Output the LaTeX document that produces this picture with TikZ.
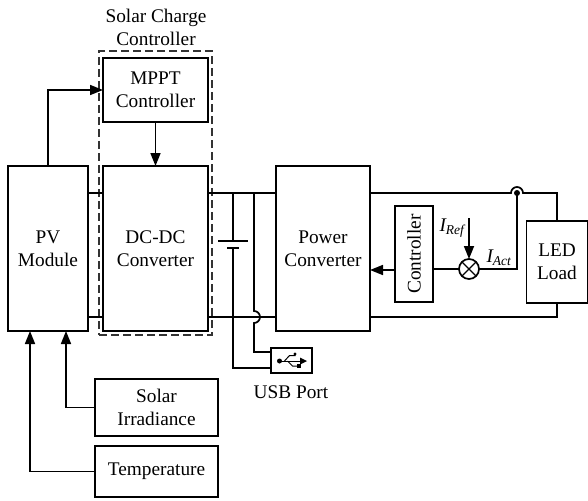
\documentclass[tikz,border=0pt]{standalone}
\usepackage{fontspec}
\setmainfont{Liberation Serif}
\usetikzlibrary{arrows.meta, calc}

\begin{document}
\begin{tikzpicture}[
    x=1pt, y=-1pt,
    font=\fontsize{19.3}{23}\selectfont,
    % styles
    block/.style={
        draw, line width=1.7pt, align=center, inner sep=0pt, outer sep=0pt
    },
    wire/.style={
        draw, line width=1.7pt
    },
    sig_arrow/.style={
        wire, -{Triangle[length=13pt, width=10pt]}
    },
    caption/.style={
        align=center, inner sep=0pt
    }
]
    \useasboundingbox (0, 0) rectangle (588, 500);

    % --- SOURCE SIDE ---
    \node[block, minimum width=80pt, minimum height=165pt] (pv) at (48, 248.5) {PV\\Module};
    \node[block, minimum width=105pt, minimum height=64pt] (mppt) at (155.5, 90) {MPPT\\Controller};
    \node[block, minimum width=105pt, minimum height=165pt] (dcdc) at (155.5, 248.5) {DC-DC\\Converter};
    \node[draw=black!80, line width=1.3pt, dash pattern=on 8pt off 4pt, inner sep=0pt, minimum width=113pt, minimum height=284pt] (charge_frame) at (155.5, 193) {};
    \node[caption] (charge_label) at (156, 27) {Solar Charge\\Controller};

    % --- INPUTS ---
    \node[block, minimum width=123pt, minimum height=57pt] (irradiance) at (156.5, 407.5) {Solar\\Irradiance};
    \node[block, minimum width=123pt, minimum height=51pt] (temperature) at (156.5, 471.5) {Temperature};

    % --- LOAD SIDE ---
    \node[block, minimum width=94pt, minimum height=165pt] (power) at (323, 248.5) {Power\\Converter};
    \node[block, minimum width=96pt, minimum height=38pt, rotate=90] (ctrl) at (414, 254) {Controller};
    \node[block, circle, minimum size=20pt] (sum) at (469, 269) {};
    \node[block, minimum width=61pt, minimum height=82pt] (led) at (557, 262) {LED\\Load};
    \node[caption] (i_ref) at (452, 228) {\itshape I\textsubscript{Ref}};
    \node[caption] (i_act) at (499, 258) {\itshape I\textsubscript{Act}};

    % --- USB ---
    \node[block, minimum width=41pt, minimum height=25pt] (usb) at (291.5, 360.5) {};
    \node[caption] (usb_label) at (291, 392) {USB Port};

    % helper points
    \coordinate (top_bus) at (233, 193);
    \coordinate (bot_bus) at (233, 317);
    \coordinate (bat_plus) at (233, 241);
    \coordinate (bat_minus) at (233, 248);
    \coordinate (ref_in) at (469, 218);
    \coordinate (jump_x) at (517, 193);

    % sum cross
    \draw[line width=1.3pt] (sum.45) -- (sum.225) (sum.135) -- (sum.315);

    % PV and MPPT
    \draw[sig_arrow] (pv.north) |- (mppt.west);
    \draw[sig_arrow] (mppt.south) -- (dcdc.north);
    \draw[sig_arrow] (irradiance.west) -| (66, 331);
    \draw[sig_arrow] (temperature.west) -| (30, 331);

    % Buses
    \draw[wire] (pv.east |- top_bus) -- (dcdc.west |- top_bus);
    \draw[wire] (pv.east |- bot_bus) -- (dcdc.west |- bot_bus);
    \draw[wire] (dcdc.east |- top_bus) -- (power.west |- top_bus);
    \draw[wire] (dcdc.east |- bot_bus) -- (power.west |- bot_bus);

    % Battery
    \draw[wire] (top_bus) -- (bat_plus);
    \draw[wire] ($(bat_plus)+(-15,0)$) -- ($(bat_plus)+(15,0)$);
    \draw[wire] ($(bat_minus)+(-6,0)$) -- ($(bat_minus)+(6,0)$);
    \draw[wire] (bat_minus) |- (usb.west |- 0, 368);

    % USB feed with jump
    \draw[wire] (254, 193) -- (254, 311) arc[start angle=90, end angle=-90, radius=6pt] -- (254, 352) -- (usb.west |- 0, 352);

    % Load wires with jump
    \draw[wire] (power.east |- top_bus) -- (511, 193) arc[start angle=180, end angle=0, radius=6pt] -| (led.north);
    \draw[wire] (power.east |- bot_bus) -| (led.south);

    % Control loop
    \draw[sig_arrow] (ctrl.north |- 0, 270) -- (power.east |- 0, 270);
    \draw[wire] (ctrl.south |- sum) -- (sum.west);
    \draw[sig_arrow] (ref_in) -- (sum.north);
    \draw[wire] (sum.east) -| (jump_x);
    \fill (jump_x) circle[radius=3pt];

    % USB symbol
    \fill (usb.center) ++(-12, 0.5) circle[radius=2.5pt];
    \draw[line width=1pt] (usb.center) ++(-12, 0.5) -- ++(22, 0);
    \fill (usb.center) ++(15.5, 0.5) -- ++(-7, -3.5) -- ++(0, 7) -- cycle;
    \draw[line width=1pt] (usb.center) ++(-7, 0.5) -- ++(5, -5.5) -- ++(6, 0);
    \fill (usb.center) ++(3.5, -6.5) circle[radius=1.7pt];
    \draw[line width=1pt] (usb.center) ++(-4, 0.5) -- ++(5, 5) -- ++(5, 0);
    \fill (usb.center) ++(5, 3.5) rectangle ++(4, 4);
\end{tikzpicture}
\end{document}
